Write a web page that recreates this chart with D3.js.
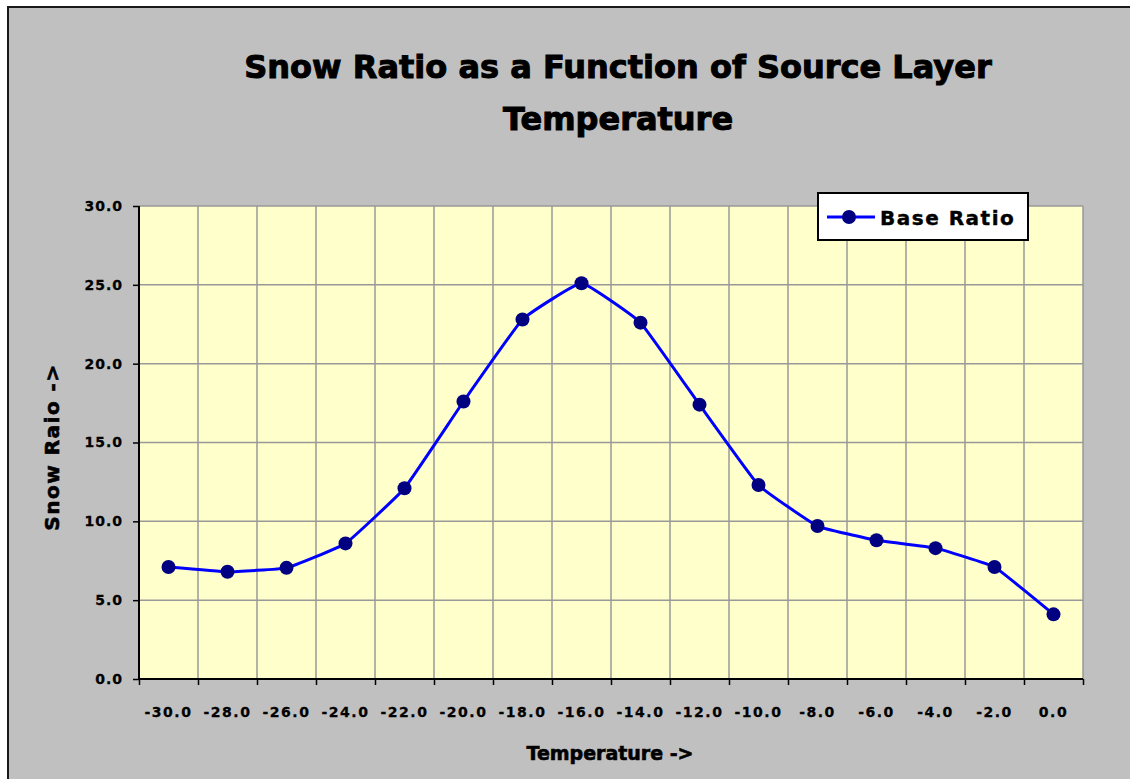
<!DOCTYPE html>
<html><head><meta charset="utf-8">
<script src="https://cdn.jsdelivr.net/npm/d3@7"></script>
<style>html,body{margin:0;padding:0;background:#fff;} svg{display:block;}</style>
</head><body>
<script>
const categories = [-30,-28,-26,-24,-22,-20,-18,-16,-14,-12,-10,-8,-6,-4,-2,0];
const baseRatio = [7.1,6.8,7.05,8.6,12.1,17.6,22.8,25.1,22.6,17.4,12.3,9.7,8.8,8.3,7.1,4.1];
const yTicks = [0,5,10,15,20,25,30];
const seriesName = "Base Ratio";
const titleLines = ["Snow Ratio as a Function of Source Layer","Temperature"];

const W=1130,H=779;
const svg=d3.select("body").append("svg").attr("width",W).attr("height",H);
svg.append("rect").attr("x",8).attr("y",7).attr("width",W).attr("height",H).attr("fill","#C0C0C0").attr("stroke","#1a1a1a").attr("stroke-width",2);

const L=139,R=1083,T=206,B=679;
const x=d3.scaleBand().domain(categories).range([L,R]);
const y=d3.scaleLinear().domain([0,30]).range([B,T]);
const font="'DejaVu Sans', Verdana, sans-serif";
const fmt=d=>d3.format(".1f")(d).replace("\u2212","-");

svg.append("rect").attr("x",L).attr("y",T).attr("width",R-L).attr("height",B-T).attr("fill","#FFFFCC");
// gridlines
const bounds = categories.map(c=>x(c)).concat([R]);
svg.append("g").selectAll("line").data(bounds.slice(1)).join("line")
  .attr("x1",d=>d).attr("x2",d=>d).attr("y1",T).attr("y2",B).attr("stroke","#999").attr("stroke-width",1.5);
svg.append("g").selectAll("line").data(yTicks.slice(1)).join("line")
  .attr("x1",L).attr("x2",R).attr("y1",d=>y(d)).attr("y2",d=>y(d)).attr("stroke","#999").attr("stroke-width",1.5);

// axes
const yAxis=d3.axisLeft(y).tickValues(yTicks).tickFormat(fmt).tickSize(6).tickPadding(10);
const gy=svg.append("g").attr("transform",`translate(${L},0)`).call(yAxis);
gy.select(".domain").attr("stroke","#000").attr("stroke-width",2).attr("d",`M0,${B}V${T}`);
gy.selectAll(".tick line").attr("stroke","#000").attr("stroke-width",1.5);
gy.selectAll("text").attr("font-family",font).attr("font-weight","bold").attr("font-size",14).attr("letter-spacing","1px").attr("fill","#000").attr("stroke","#000").attr("stroke-width",0.3);

const xb=d3.scaleLinear().domain([0,categories.length]).range([L,R]);
const gx=svg.append("g").attr("transform",`translate(0,${B})`)
  .call(d3.axisBottom(xb).tickValues(d3.range(categories.length+1)).tickFormat("").tickSize(6));
gx.select(".domain").attr("stroke","#000").attr("stroke-width",2).attr("d",`M${L},0H${R}`);
gx.selectAll(".tick line").attr("stroke","#000").attr("stroke-width",1.5);
svg.append("g").selectAll("text").data(categories).join("text")
  .attr("x",d=>x(d)+x.bandwidth()/2).attr("y",B+38).attr("text-anchor","middle")
  .attr("font-family",font).attr("font-weight","bold").attr("font-size",14).attr("letter-spacing","1.5px")
  .attr("stroke","#000").attr("stroke-width",0.3)
  .text(fmt);

// line
const line=d3.line().x((d,i)=>x(categories[i])+x.bandwidth()/2).y(d=>y(d)).curve(d3.curveCardinal.tension(0.7));
svg.append("path").datum(baseRatio).attr("d",line).attr("fill","none").attr("stroke","#0000FF").attr("stroke-width",3);
svg.append("g").selectAll("circle").data(baseRatio).join("circle")
  .attr("cx",(d,i)=>x(categories[i])+x.bandwidth()/2).attr("cy",d=>y(d)).attr("r",7).attr("fill","#000080");

// title
svg.append("g").selectAll("text").data(titleLines).join("text")
  .attr("x",618).attr("y",(d,i)=>78+i*52).attr("text-anchor","middle")
  .attr("font-family",font).attr("font-weight","bold").attr("font-size",32)
  .attr("stroke","#000").attr("stroke-width",1.0).text(d=>d);

// axis titles
svg.append("text").attr("x",610).attr("y",760).attr("text-anchor","middle")
  .attr("font-family",font).attr("font-weight","bold").attr("font-size",19).attr("stroke","#000").attr("stroke-width",0.6).text("Temperature ->");
svg.append("text").attr("transform","translate(59,447) rotate(-90)").attr("text-anchor","middle")
  .attr("font-family",font).attr("font-weight","bold").attr("font-size",20).attr("letter-spacing","1.5px").attr("stroke","#000").attr("stroke-width",0.6).text("Snow Raio ->");

// legend
const lg=svg.append("g");
lg.append("rect").attr("x",818).attr("y",193).attr("width",210).attr("height",47).attr("fill","#fff").attr("stroke","#000").attr("stroke-width",2);
lg.append("line").attr("x1",827).attr("x2",875).attr("y1",217).attr("y2",217).attr("stroke","#0000FF").attr("stroke-width",3);
lg.append("circle").attr("cx",849).attr("cy",217).attr("r",7).attr("fill","#000080");
lg.append("text").attr("x",880).attr("y",225).attr("font-family",font).attr("font-weight","bold").attr("font-size",20).attr("letter-spacing","1.5px").attr("stroke","#000").attr("stroke-width",0.4).text(seriesName);
</script>
</body></html>
